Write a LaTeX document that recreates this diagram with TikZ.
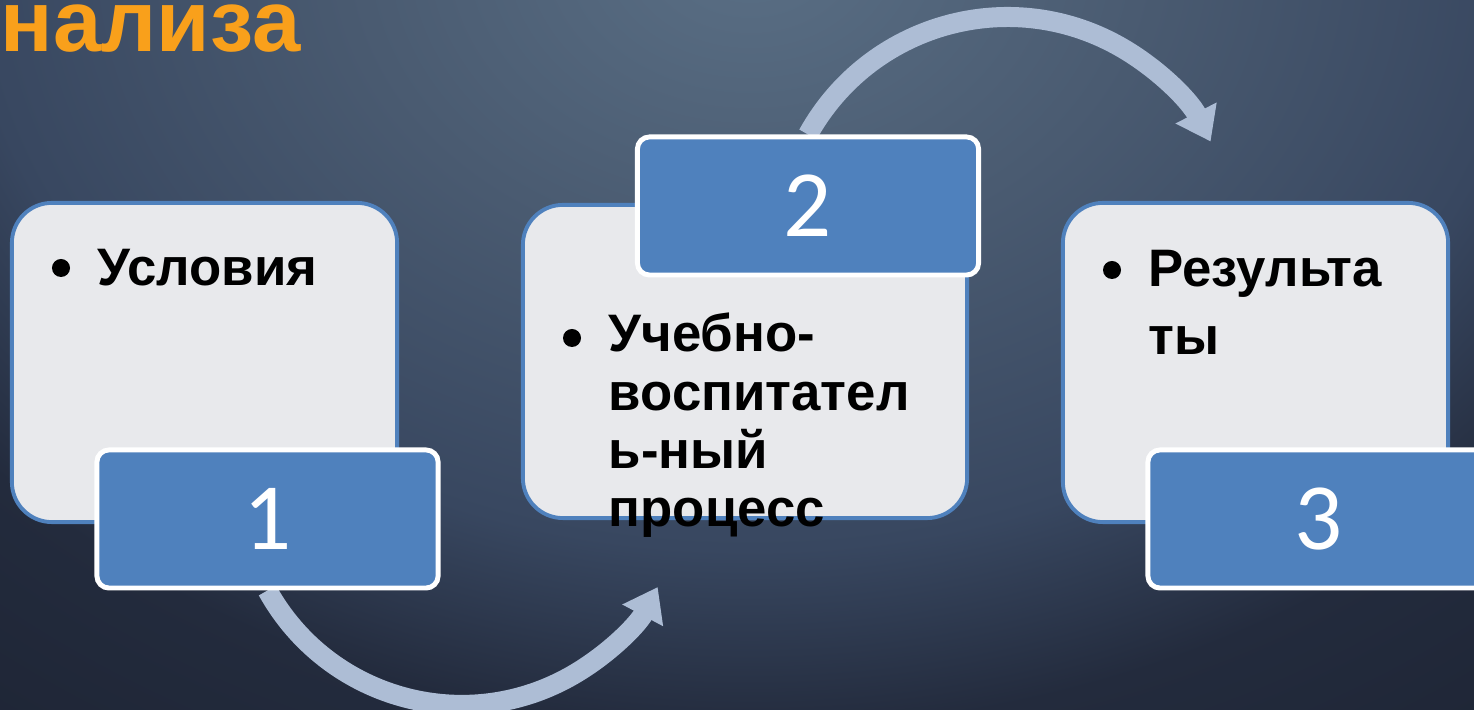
\documentclass[tikz,border=0pt]{standalone}
\usepackage{fontspec}
\setmainfont{Liberation Sans}
\newfontfamily\numfont{Carlito}
\usetikzlibrary{arrows.meta,positioning}
\definecolor{accent}{RGB}{79,129,189}
\definecolor{paper}{RGB}{232,233,236}
\definecolor{flow}{RGB}{173,189,213}
\definecolor{heading}{RGB}{249,160,27}
\definecolor{bg0}{RGB}{90,111,133}
\definecolor{bg1}{RGB}{74,91,113}
\definecolor{bg2}{RGB}{56,71,96}
\definecolor{bg3}{RGB}{35,43,61}
\definecolor{bg4}{RGB}{30,37,53}
\pgfdeclareradialshading{backdrop}{\pgfpoint{0bp}{0bp}}{color(0bp)=(bg0); color(7.5bp)=(bg1); color(15bp)=(bg2); color(19.5bp)=(bg3); color(25bp)=(bg4); color(50bp)=(bg4)}
\pgfdeclarelayer{back}
\pgfdeclarelayer{mid}
\pgfsetlayers{back,mid,main}

\begin{document}
\begin{tikzpicture}[x=0.01cm,y=0.01cm,
  stage/.style={draw=accent,line width=1.1pt,fill=paper,rounded corners=0.4cm,
    minimum width=3.85cm,minimum height=3.19cm},
  num/.style={draw=white,line width=1.4pt,fill=accent,rounded corners=0.12cm,
    minimum width=3.41cm,minimum height=1.38cm,text=white,
    font=\numfont\fontsize{27}{27}\selectfont},
  item/.style={anchor=base west,inner sep=0pt,text width=3.4cm,align=left},
  dot/.style={circle,fill=black,inner sep=0pt,minimum size=0.18cm},
  flow arrow/.style={draw=flow,line width=0.2cm,-{Triangle[length=0.32cm,width=0.44cm]}}]
  \useasboundingbox (0,0) rectangle (1474,710);
  \clip (0,0) rectangle (1474,710);
  \begin{pgfonlayer}{back}
    \fill[bg4] (0,0) rectangle (1474,710);
    \shade[shading=backdrop] (750,760) ellipse [x radius=1300,y radius=1000];
  \end{pgfonlayer}

  \node[font=\bfseries\fontsize{24.7}{26}\selectfont,text=heading,anchor=base west,inner sep=0pt]
    (title) at (0,658) {нализа};

  \node[stage] (b1) at (204.5,347.5) {};
  \node[stage,minimum width=4.44cm,minimum height=3.13cm] (b2) at (745,348.5) {};
  \node[stage] (b3) at (1255.5,347.5) {};

  \node[num] (n1) at (267.5,191) {1};
  \node[num] (n2) at (808,504)   {2};
  \node[num] (n3) at (1318.5,191) {3};

  \node[dot]  (d1) at (61,442) {};
  \node[item,font=\bfseries\fontsize{15}{16.5}\selectfont] (t1) at (97,424) {Условия};
  \node[dot]  (d2) at (572,372) {};
  \node[item,font=\bfseries\fontsize{15}{16.5}\selectfont] (t2) at (608,358)
    {Учебно-\\воспитател\\ь-ный\\процесс};
  \node[dot]  (d3) at (1112,440) {};
  \node[item,font=\bfseries\fontsize{15}{19.3}\selectfont] (t3) at (1148,423)
    {Результа\\ты};

  \begin{pgfonlayer}{mid}
    \draw[flow arrow] (n1.south) arc[start angle=209,end angle=332,radius=222];
    \draw[flow arrow] (n2.north) arc[start angle=151,end angle=27,radius=228];
  \end{pgfonlayer}
\end{tikzpicture}
\end{document}
